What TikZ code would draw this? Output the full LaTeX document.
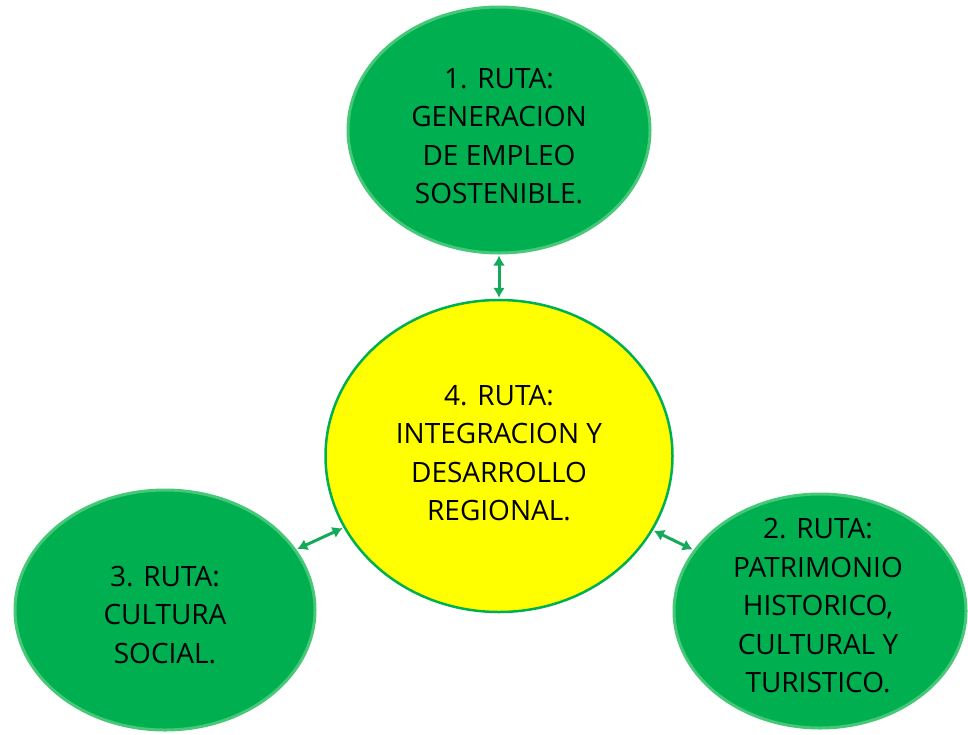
\documentclass[tikz,border=0pt]{standalone}
\usepackage{fontspec}
\setmainfont{Open Sans}
\usetikzlibrary{shapes.geometric,arrows.meta}
\definecolor{rutagreen}{RGB}{0,176,80}
\definecolor{rimgreen}{RGB}{70,200,120}
\definecolor{arrowgreen}{RGB}{20,170,90}
\definecolor{rutayellow}{RGB}{255,255,0}
\tikzset{
  ruta/.style={ellipse, fill=rutagreen, draw=rimgreen, line width=3pt, inner sep=0pt},
  centro/.style={ruta, fill=rutayellow, draw=rutagreen, line width=2.5pt},
  rutatext/.style={align=center, font=\fontsize{28}{38.5}\selectfont, text=black, inner sep=0pt},
  link/.style={draw=arrowgreen, line width=3pt, {Latex[length=10pt,width=12pt]}-{Latex[length=10pt,width=12pt]}, shorten <=1pt, shorten >=1pt}
}
\begin{document}
\begin{tikzpicture}[x=1pt,y=-1pt]
\useasboundingbox (0,0) rectangle (968,734);
\node[ruta, minimum width=302pt, minimum height=246pt] (r1) at (499,130) {};
\node[rutatext] (t1) at (499,136) {1. RUTA:\\GENERACION\\DE EMPLEO\\SOSTENIBLE.};
\node[centro, minimum width=347pt, minimum height=312pt] (r4) at (499,456) {};
\node[rutatext] (t4) at (499,453) {4. RUTA:\\INTEGRACION Y\\DESARROLLO\\REGIONAL.};
\node[ruta, minimum width=300pt, minimum height=240pt] (r3) at (165,610) {};
\node[rutatext] (t3) at (165,615) {3. RUTA:\\CULTURA\\SOCIAL.};
\node[ruta, minimum width=292pt, minimum height=234pt] (r2) at (820,611) {};
\node[rutatext] (t2) at (818,606) {2. RUTA:\\PATRIMONIO\\HISTORICO,\\CULTURAL Y\\TURISTICO.};
\draw[link] (r1.south) -- (r4.north);
\draw[link] (r3) -- (r4);
\draw[link] (r2) -- (r4);
\end{tikzpicture}
\end{document}
